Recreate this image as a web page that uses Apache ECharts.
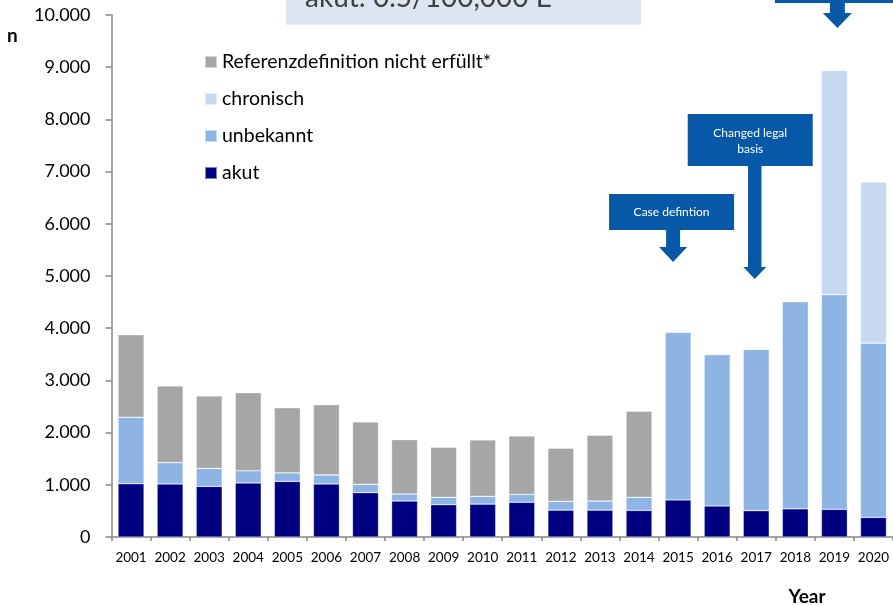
<!DOCTYPE html>
<html>
<head>
<meta charset="utf-8">
<script src="https://cdn.jsdelivr.net/npm/echarts@6/dist/echarts.min.js"></script>
<style>
  html, body { margin: 0; padding: 0; background: #fff; }
  #chart { width: 893px; height: 606px; }
</style>
</head>
<body>
<div id="chart"></div>
<script>
// Reported cases per year, split by case category
const years = ['2001','2002','2003','2004','2005','2006','2007','2008','2009','2010',
               '2011','2012','2013','2014','2015','2016','2017','2018','2019','2020'];
const akut      = [1020,1015,970,1035,1065,1015,850,690,620,630,665,515,515,510,710,595,505,540,530,375];
const unbekannt = [1275,410,345,235,165,175,160,135,140,150,150,170,175,250,3215,2900,3090,3970,4110,3340];
const chronisch = [0,0,0,0,0,0,0,0,0,0,0,0,0,0,0,0,0,0,4300,3085];
const referenz  = [1580,1470,1385,1495,1245,1345,1195,1040,960,1080,1120,1015,1260,1650,0,0,0,0,0,0];
const yTicks = [0,1000,2000,3000,4000,5000,6000,7000,8000,9000,10000];

const FONT = 'Lato';
const C_AKUT = '#000080', C_UNB = '#8EB4E3', C_CHR = '#C6D9F1', C_REF = '#A6A6A6';
const C_NOTE = '#0759A7';

const fmt = v => String(v).replace(/\B(?=(\d{3})+(?!\d))/g, '.');

const chart = echarts.init(document.getElementById('chart'), null, { renderer: 'canvas' });

function bar(name, data, color) {
  return {
    name, type: 'bar', stack: 'total', data,
    barWidth: 26,
    itemStyle: { color, borderColor: 'rgba(255,255,255,0.5)', borderWidth: 0.6 },
    emphasis: { disabled: true },
    animation: false
  };
}

chart.setOption({
  animation: false,
  textStyle: { fontFamily: FONT },
  grid: { left: 111.5, top: 15, width: 782, bottom: 69, containLabel: false },
  legend: {
    orient: 'vertical', left: 199, top: 47,
    icon: 'rect', itemWidth: 12, itemHeight: 12, itemGap: 17,
    selectedMode: false,
    data: ['Referenzdefinition nicht erfüllt*', 'chronisch', 'unbekannt', 'akut'],
    textStyle: { fontFamily: FONT, fontSize: 19.5, color: '#000' }
  },
  xAxis: {
    type: 'category', data: years,
    axisLine: { lineStyle: { color: '#868686', width: 1.5 } },
    axisTick: { show: true, length: 4, lineStyle: { color: '#868686', width: 1.5 } },
    axisLabel: { fontFamily: FONT, fontSize: 13.5, color: '#000', margin: 14, interval: 0 }
  },
  yAxis: {
    type: 'value', min: 0, max: 10000, interval: 1000,
    axisLine: { show: true, lineStyle: { color: '#868686', width: 1.5 } },
    axisTick: { show: true, length: 6, inside: false, lineStyle: { color: '#868686', width: 1.5 } },
    splitLine: { show: false },
    axisLabel: {
      fontFamily: FONT, fontSize: 18, color: '#000', margin: 21,
      formatter: v => yTicks.includes(v) ? fmt(v) : ''
    }
  },
  series: [
    bar('akut', akut, C_AKUT),
    bar('unbekannt', unbekannt, C_UNB),
    bar('chronisch', chronisch, C_CHR),
    bar('Referenzdefinition nicht erfüllt*', referenz, C_REF)
  ]
});

// Annotation callouts anchored to their year columns
function xOf(year) { return chart.convertToPixel({ xAxisIndex: 0 }, year); }

function arrow(cx, top, headTop, tip, shaftW, headW) {
  const s = shaftW / 2, h = headW / 2;
  return {
    type: 'polygon', silent: true,
    shape: { points: [[cx - s, top], [cx + s, top], [cx + s, headTop], [cx + h, headTop],
                      [cx, tip], [cx - h, headTop], [cx - s, headTop]] },
    style: { fill: C_NOTE }
  };
}

const xCase = xOf('2015') - 5, xLegal = xOf('2017') - 1.5, xTop = xOf('2019') + 3;

chart.setOption({
  graphic: [
    // headline box, partly above the top edge
    { type: 'rect', silent: true, shape: { x: 286, y: -20, width: 355, height: 44.7 }, style: { fill: '#DCE6F2' } },
    { type: 'text', silent: true, x: 305, y: -2,
      style: { text: 'akut: 0.5/100,000 E', fill: '#404040', font: '28px ' + FONT, verticalAlign: 'middle' } },

    // top-right note box and its arrow
    { type: 'rect', silent: true, shape: { x: 775, y: -20, width: 130, height: 23 }, style: { fill: C_NOTE } },
    arrow(xTop, 3, 13, 28, 15, 29),

    // "Changed legal basis"
    { type: 'rect', silent: true, shape: { x: xLegal - 67, y: 114, width: 125, height: 52 }, style: { fill: C_NOTE } },
    { type: 'text', silent: true, x: xLegal - 4.5, y: 141,
      style: { text: 'Changed legal\nbasis', fill: '#fff', font: '12px ' + FONT, align: 'center',
               verticalAlign: 'middle', lineHeight: 16 } },
    arrow(xLegal, 166, 267, 279, 13.5, 23),

    // "Case defintion"
    { type: 'rect', silent: true, shape: { x: xCase - 64, y: 194, width: 125, height: 36 }, style: { fill: C_NOTE } },
    { type: 'text', silent: true, x: xCase - 1.5, y: 212.5,
      style: { text: 'Case defintion', fill: '#fff', font: '12px ' + FONT, align: 'center', verticalAlign: 'middle' } },
    arrow(xCase, 230, 247, 262, 14, 28),

    // axis titles
    { type: 'text', silent: true, x: 7, y: 36,
      style: { text: 'n', fill: '#000', font: 'bold 19px ' + FONT, verticalAlign: 'middle' } },
    { type: 'text', silent: true, x: 807, y: 597,
      style: { text: 'Year', fill: '#000', font: 'bold 19px ' + FONT, align: 'center', verticalAlign: 'middle' } }
  ]
});
</script>
</body>
</html>
